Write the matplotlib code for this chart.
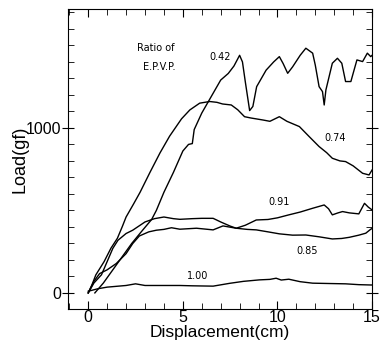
import matplotlib
matplotlib.use("Agg")
import matplotlib.pyplot as plt
from matplotlib.ticker import MultipleLocator

# curves: displacement (cm) / load (gf)
x_042 = [0.35, 0.8, 1.3, 1.8, 2.3, 2.8, 3.35, 3.6, 4.0, 4.5, 5.0, 5.3, 5.5, 5.6, 6.0, 6.4, 7.0,
         7.4, 7.7, 8.0, 8.15, 8.3, 8.53, 8.7, 8.9, 9.4, 9.8, 10.1, 10.3, 10.54, 10.8, 11.2, 11.5,
         11.86, 12.0, 12.2, 12.38, 12.47, 12.56, 12.9, 13.17, 13.4, 13.6, 13.88, 14.05, 14.2,
         14.5, 14.75, 14.93, 15.0]
y_042 = [0, 60, 140, 220, 300, 370, 445, 500, 610, 730, 860, 900, 905, 990, 1090, 1170, 1290,
         1330, 1375, 1440, 1400, 1280, 1105, 1130, 1250, 1350, 1400, 1432, 1390, 1331, 1370, 1440, 1483,
         1453, 1380, 1250, 1220, 1139, 1230, 1392, 1422, 1392, 1281, 1281, 1351, 1412,
         1402, 1453, 1432, 1440]

x_074 = [0, 0.2, 0.4, 0.84, 1.2, 1.54, 1.8, 2.0, 2.4, 2.74, 3.26, 3.79, 4.3, 4.93, 5.37, 5.89,
         6.42, 6.8, 7.1, 7.56, 7.9, 8.26, 8.6, 9.23, 9.6, 10.1, 10.5, 11.16, 11.68, 12.2, 12.6,
         12.9, 13.3, 13.6, 14.0, 14.5, 14.84, 15.0]
y_074 = [0, 50, 109, 190, 271, 331, 402, 460, 540, 610, 730, 848, 950, 1055, 1109, 1150,
         1160, 1155, 1145, 1139, 1110, 1068, 1060, 1048, 1040, 1068, 1040, 1008, 947, 887, 850,
         816, 800, 796, 770, 725, 715, 745]

x_091 = [0, 0.3, 0.7, 1.0, 1.3, 1.57, 2.0, 2.35, 3.0, 3.5, 4.0, 4.5, 4.84, 5.5, 6.0, 6.6, 7.0,
         7.5, 7.82, 8.3, 8.88, 9.5, 10.0, 10.6, 11.2, 11.86, 12.47, 12.7, 12.9, 13.2, 13.44, 13.8,
         14.3, 14.6, 14.8, 15.0]
y_091 = [0, 60, 110, 190, 270, 319, 360, 380, 430, 450, 460, 450, 446, 450, 452, 452, 430,
         405, 392, 410, 442, 445, 455, 473, 490, 513, 533, 510, 473, 485, 493, 485,
         479, 543, 520, 503]

x_085 = [0, 0.3, 0.6, 1.0, 1.48, 2.0, 2.35, 2.7, 3.2, 3.6, 4.0, 4.4, 4.84, 5.72, 6.6, 7.12,
         7.82, 8.4, 8.88, 9.5, 10.1, 10.8, 11.5, 12.2, 12.9, 13.4, 13.8, 14.3, 14.67, 14.93, 15.0]
y_085 = [0, 70, 117, 140, 178, 238, 299, 345, 370, 380, 385, 395, 386, 392, 382, 406,
         392, 385, 382, 370, 358, 350, 351, 340, 327, 330, 337, 350, 362, 386, 390]

x_100 = [0, 0.5, 1.0, 2.0, 2.5, 3.0, 4.0, 4.84, 5.5, 6.6, 7.47, 8.2, 9.05, 9.6, 9.93, 10.2,
         10.6, 11.2, 11.86, 12.7, 13.6, 14.3, 14.93, 15.0]
y_100 = [10, 25, 35, 45, 55, 45, 45, 45, 43, 41, 58, 70, 79, 82, 89, 78,
         83, 68, 59, 57, 55, 50, 48, 48]

curves = [(x_042, y_042), (x_074, y_074), (x_091, y_091), (x_085, y_085), (x_100, y_100)]
labels = ["0.42", "0.74", "0.91", "0.85", "1.00"]
label_pos = [(6.4, 1427), (12.5, 940), (9.5, 548), (11.0, 255), (5.2, 105)]

plt.rcParams['font.family'] = ['Liberation Sans', 'DejaVu Sans']

fig = plt.figure(figsize=(3.82, 3.44), dpi=100)
ax = fig.add_axes([0.178, 0.102, 0.796, 0.872])

for (xs, ys) in curves:
    ax.plot(xs, ys, color='black', lw=1.0)

note_font = ['Liberation Sans Narrow', 'DejaVu Sans']
for lab, (tx, ty) in zip(labels, label_pos):
    ax.text(tx, ty, lab, fontsize=7, family=note_font, va='center', ha='left')
ax.text(2.6, 1485, "Ratio of", fontsize=7, family=note_font, va='center', ha='left')
ax.text(2.9, 1367, "E.P.V.P.", fontsize=7, family=note_font, va='center', ha='left')

ax.set_xlim(-1.07, 15)
ax.set_ylim(-97, 1721)
ax.xaxis.set_major_locator(MultipleLocator(5))
ax.xaxis.set_minor_locator(MultipleLocator(1))
ax.yaxis.set_major_locator(MultipleLocator(1000))
ax.yaxis.set_minor_locator(MultipleLocator(100))
ax.tick_params(which='major', axis='x', direction='in', length=6, top=True, labelsize=11.5, pad=1)
ax.tick_params(which='major', axis='y', direction='inout', length=8, right=True, labelsize=11.5, pad=1)
ax.tick_params(which='minor', direction='in', length=4, top=True, right=True)

ax.set_xlabel('Displacement(cm)', fontsize=12.5, labelpad=0)
ax.set_ylabel('Load(gf)', fontsize=13, labelpad=-2)

fig.savefig('out.png', dpi=100)
